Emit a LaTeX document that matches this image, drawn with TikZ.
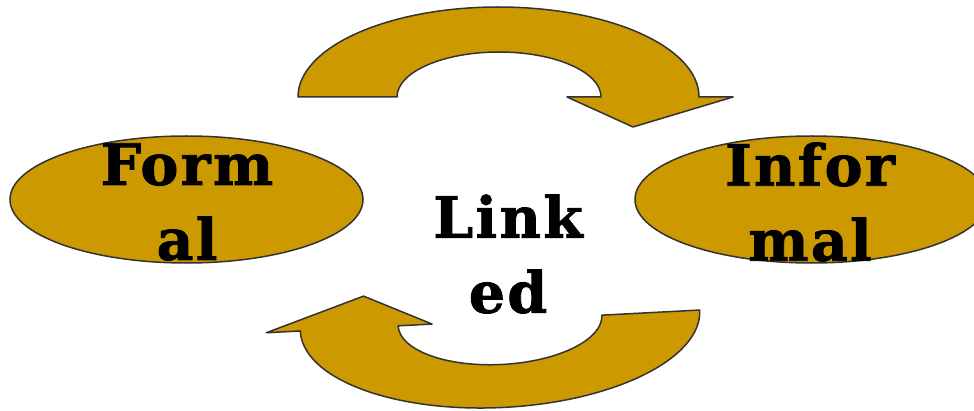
\documentclass[tikz,border=0pt]{standalone}
\usepackage{fontspec}
\setmainfont{DejaVu Serif}
\newfontfamily\wortfont[LetterSpace=4,FakeBold=1.4]{DejaVu Serif}
\usetikzlibrary{shapes.geometric}
\definecolor{gold}{RGB}{204,153,0}
\definecolor{rand}{RGB}{51,51,51}
\tikzset{
	pfeil/.style={fill=gold, draw=rand, line width=1.5pt, line join=round},
	blase/.style={ellipse, fill=gold, draw=rand, line width=1.5pt, minimum width=353pt, minimum height=127pt, inner sep=0pt},
	wort/.style={font=\wortfont\fontsize{57}{75}\selectfont\bfseries, align=center, inner sep=0pt, text=black}
}
\begin{document}
\begin{tikzpicture}[x=1pt,y=1pt]
			\useasboundingbox (0,0) rectangle (974,410);
			\clip (0,0) rectangle (974,410);
			
			% Pfeil oben
			\draw[pfeil] (298,313) arc[start angle=180, end angle=0, x radius=200.5, y radius=90]
			-- (733,313) -- (633,283) -- (567,313) -- (601,313)
			arc[start angle=0, end angle=180, x radius=102, y radius=45] -- cycle;
			
			% Pfeil unten
			\begin{scope}[rotate around={3:(500,89.5)}]
				\draw[pfeil] (300,89.5) arc[start angle=180, end angle=360, x radius=200, y radius=87]
				-- (602,89.5) arc[start angle=360, end angle=180, x radius=102, y radius=44]
				-- (432,89.5) -- (365,121) -- (266,89.5) -- cycle;
			\end{scope}
			
			% Ellipsen
			\node[blase] (formal) at (186.5,210.5) {};
			\node[blase] (informal) at (811.5,210.5) {};
			
			% Beschriftungen
			\node[wort] (formaltxt) at (187,208) {Form\\al};
			\node[wort] (informaltxt) at (810,208) {Infor\\mal};
			\node[wort] (linked) at (508,156) {Link\\ed};
			
		\end{tikzpicture}
\end{document}
